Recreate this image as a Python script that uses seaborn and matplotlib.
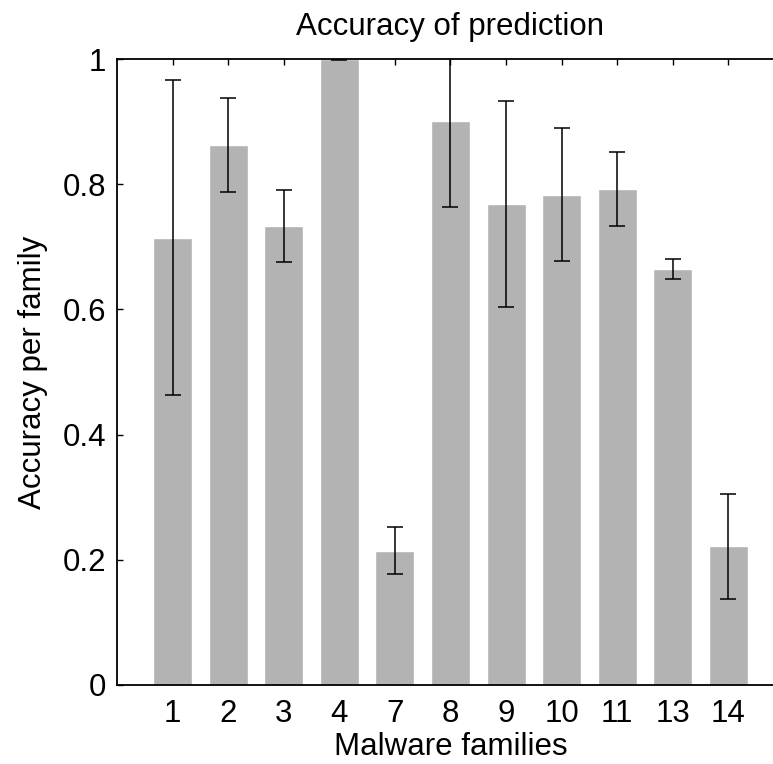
import numpy as np
import pandas as pd
import matplotlib
matplotlib.use("Agg")
import matplotlib.pyplot as plt
import seaborn as sns

families = ["1", "2", "3", "4", "7", "8", "9", "10", "11", "13", "14"]
accuracy = [0.714, 0.863, 0.733, 1.000, 0.2145, 0.901, 0.768, 0.783, 0.7925, 0.665, 0.2225]
err_low = [0.463, 0.7875, 0.676, 0.998, 0.178, 0.764, 0.604, 0.678, 0.734, 0.649, 0.138]
err_high = [0.967, 0.938, 0.790, 1.002, 0.253, 1.038, 0.933, 0.889, 0.852, 0.681, 0.3055]

sns.set_style("white")
plt.rcParams["font.family"] = ["Liberation Sans", "DejaVu Sans"]
plt.rcParams["text.color"] = "black"
plt.rcParams["axes.labelcolor"] = "black"

df = pd.DataFrame({"family": families, "accuracy": accuracy})

fig = plt.figure(figsize=(7.73, 7.64), dpi=100)
ax = fig.add_axes([117 / 773, 79 / 764, (784 - 117) / 773, (685 - 59) / 764])

sns.barplot(data=df, x="family", y="accuracy", order=families, color="#b3b3b3",
            saturation=1, width=0.7, ax=ax, errorbar=None)

acc = np.array(accuracy)
lo = acc - np.array(err_low)
hi = np.array(err_high) - acc
ax.errorbar(np.arange(len(families)), acc, yerr=[lo, hi], fmt="none",
            ecolor="black", elinewidth=1.1, capsize=5.5, capthick=1.1, zorder=3)

ax.set_xlim(-1, len(families))
ax.set_ylim(0, 1)
ax.set_yticks([0, 0.2, 0.4, 0.6, 0.8, 1.0])
ax.set_yticklabels(["0", "0.2", "0.4", "0.6", "0.8", "1"])

fs = 22.5
ax.set_title("Accuracy of prediction", fontsize=fs, pad=17, color="black")
ax.set_xlabel("Malware families", fontsize=fs, labelpad=2)
ax.set_ylabel("Accuracy per family", fontsize=fs, labelpad=10)

for name, s in ax.spines.items():
    s.set_visible(name != "right")
    s.set_color("black")
    s.set_linewidth(1.3)

ax.tick_params(axis="both", which="both", direction="in", length=4.5, width=1.0,
               labelsize=fs, colors="black", top=True, right=False, bottom=True, left=True)
ax.tick_params(axis="x", pad=10)
ax.tick_params(axis="y", pad=8)

fig.savefig("out.png", dpi=100)
